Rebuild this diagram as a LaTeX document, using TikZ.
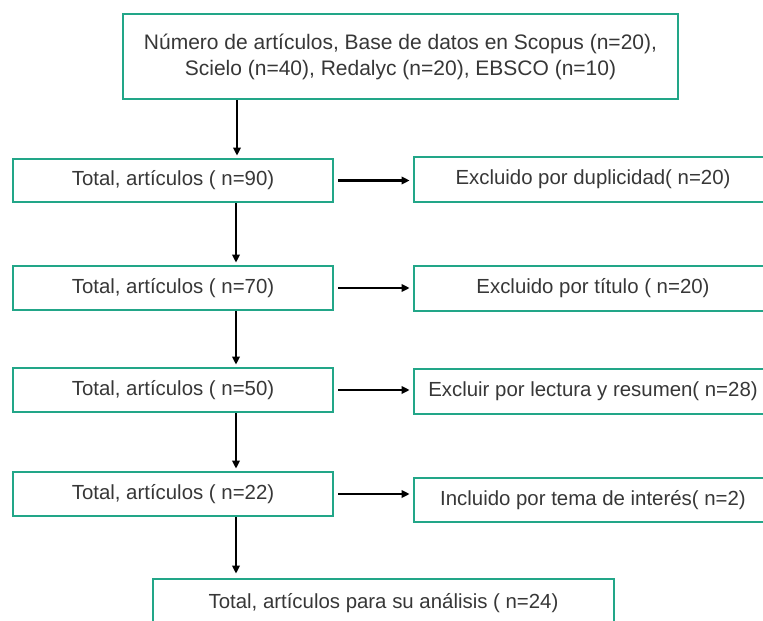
\documentclass[tikz,border=0pt]{standalone}
\usepackage{fontspec}
\setmainfont{Liberation Sans}
\usetikzlibrary{arrows.meta}
\definecolor{boxteal}{RGB}{34,166,136}
\definecolor{txtgray}{RGB}{55,55,55}
\begin{document}
\begin{tikzpicture}[x=1pt,y=-1pt,
  box/.style={draw=boxteal,line width=2.8pt,fill=white,inner sep=0pt,
    text=txtgray,font=\fontsize{20.4}{25}\selectfont,align=center},
  arr/.style={draw=black,line width=2.2pt,-{Triangle[length=8pt,width=7.5pt]}}]
\useasboundingbox (0,0) rectangle (763,621);
\clip (0,0) rectangle (763,621);
\fill[white] (0,0) rectangle (763,621);
\node[box,minimum width=555pt,minimum height=85pt,font=\fontsize{21}{26}\selectfont] (top) at (400.5,56.5)
  {Número de artículos, Base de datos en Scopus (n=20),\\Scielo (n=40), Redalyc (n=20), EBSCO (n=10)};
\node[box,minimum width=320pt,minimum height=43pt] (b1) at (173,180.5) {Total, artículos ( n=90)};
\node[box,minimum width=320pt,minimum height=44pt] (b2) at (173,288) {Total, artículos ( n=70)};
\node[box,minimum width=320pt,minimum height=44pt] (b3) at (173,390) {Total, artículos ( n=50)};
\node[box,minimum width=320pt,minimum height=44pt] (b4) at (173,494) {Total, artículos ( n=22)};
\node[box,minimum width=358pt,minimum height=45pt] (r1) at (593,179.5) {Excluido por duplicidad( n=20)};
\node[box,minimum width=358pt,minimum height=45pt] (r2) at (593,288.5) {Excluido por título ( n=20)};
\node[box,minimum width=358pt,minimum height=45pt] (r3) at (593,391.5) {Excluir por lectura y resumen( n=28)};
\node[box,minimum width=358pt,minimum height=44pt] (r4) at (593,500) {Incluido por tema de interés( n=2)};
\node[box,minimum width=461pt,minimum height=49pt] (bot) at (383.5,603.5) {Total, artículos para su análisis ( n=24)};
\coordinate (ax) at (236,0);
\coordinate (ax0) at (237,0);
\draw[arr,shorten >=2pt] (top.south -| ax0) -- (b1.north -| ax0);
\draw[arr,shorten >=2pt] (b1.south -| ax) -- (b2.north -| ax);
\draw[arr,shorten >=2pt] (b2.south -| ax) -- (b3.north -| ax);
\draw[arr,shorten >=2pt] (b3.south -| ax) -- (b4.north -| ax);
\draw[arr,shorten >=4pt] (b4.south -| ax) -- (bot.north -| ax);
\draw[arr,shorten <=4pt,shorten >=3pt] (b1.east) -- (b1.east -| r1.west);
\draw[arr,shorten <=4pt,shorten >=3pt] (b2.east) -- (b2.east -| r2.west);
\draw[arr,shorten <=4pt,shorten >=3pt] (b3.east) -- (b3.east -| r3.west);
\draw[arr,shorten <=4pt,shorten >=3pt] (b4.east) -- (b4.east -| r4.west);
\end{tikzpicture}
\end{document}
